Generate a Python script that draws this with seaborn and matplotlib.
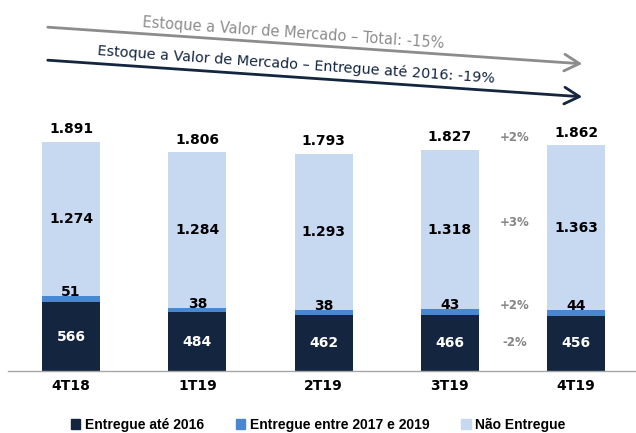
import matplotlib
matplotlib.use("Agg")
import matplotlib.pyplot as plt
import seaborn as sns
import pandas as pd
from matplotlib.patches import Patch

# data
categories = ["4T18", "1T19", "2T19", "3T19", "4T19"]
entregue_2016 = [566, 484, 462, 466, 456]
entregue_17_19 = [51, 38, 38, 43, 44]
nao_entregue = [1274, 1284, 1293, 1318, 1363]
totals = [1891, 1806, 1793, 1827, 1862]
var_labels = ["+2%", "+3%", "+2%", "-2%"]
legend_labels = ["Entregue até 2016", "Entregue entre 2017 e 2019", "Não Entregue"]

DARK = "#13253f"
MID = "#4a87d1"
LIGHT = "#c6d9f1"
GREY = "#8c8c8c"

sns.set_theme(style="white")
plt.rcParams["font.family"] = ["DejaVu Sans"]
plt.rcParams["text.color"] = "black"


def fmt(v):
    return f"{v:,}".replace(",", ".")


df = pd.DataFrame({
    "cat": categories,
    "dark": entregue_2016,
    "mid": entregue_17_19,
    "light": nao_entregue,
})
df["dark_mid"] = df["dark"] + df["mid"]
df["total"] = df["dark_mid"] + df["light"]

fig = plt.figure(figsize=(6.36, 4.33), dpi=100)
ymax = 2000
px_per_unit = 229 / 1891
ax = fig.add_axes([8 / 636, 62 / 433, 628 / 636, ymax * px_per_unit / 433])

# stacked look via overlaid cumulative bars
sns.barplot(data=df, x="cat", y="total", color=LIGHT, saturation=1, width=0.46, linewidth=0, ax=ax)
sns.barplot(data=df, x="cat", y="dark_mid", color=MID, saturation=1, width=0.46, linewidth=0, ax=ax)
sns.barplot(data=df, x="cat", y="dark", color=DARK, saturation=1, width=0.46, linewidth=0, ax=ax)

ax.set_xlim(-0.5, -0.5 + 628 / 126.25)
ax.set_ylim(0, ymax)
ax.set_xlabel("")
ax.set_ylabel("")
ax.set_yticks([])
for s in ["top", "right", "left"]:
    ax.spines[s].set_visible(False)
ax.spines["bottom"].set_color("#a6a6a6")
ax.spines["bottom"].set_linewidth(1)
ax.tick_params(axis="x", length=0, pad=6)
for lbl in ax.get_xticklabels():
    lbl.set_fontweight("bold")
    lbl.set_fontsize(10)
    lbl.set_color("black")

for i, row in df.iterrows():
    ax.annotate(fmt(totals[i]), (i, row["total"]), xytext=(0, 4), textcoords="offset points",
                ha="center", va="bottom", fontsize=10, fontweight="bold", color="black")
    ax.text(i, row["dark_mid"] + row["light"] / 2, fmt(row["light"]),
            ha="center", va="center", fontsize=10, fontweight="bold", color="black")
    ax.annotate(fmt(row["mid"]), (i, row["dark_mid"]), xytext=(0, 3), textcoords="offset points",
                ha="center", va="center", fontsize=10, fontweight="bold", color="black")
    ax.text(i, row["dark"] / 2, fmt(row["dark"]),
            ha="center", va="center", fontsize=10, fontweight="bold", color="white")

# variation labels between 3T19 and 4T19
r = df.iloc[3]
xv = 3.51
var_style = dict(fontsize=8.5, fontweight="semibold", color="#858585", ha="center")
ax.annotate(var_labels[0], (xv, r["total"]), xytext=(0, 4), textcoords="offset points",
            va="bottom", **var_style)
ax.text(xv, r["dark_mid"] + r["light"] / 2 + 60, var_labels[1], va="center", **var_style)
ax.annotate(var_labels[2], (xv, r["dark_mid"]), xytext=(0, 3), textcoords="offset points",
            va="center", **var_style)
ax.text(xv, r["dark"] / 2, var_labels[3], va="center", **var_style)

# trend arrows at the top
fig.add_artist(plt.Annotation("", xy=(585, 369), xytext=(45, 406), xycoords="figure pixels",
                              arrowprops=dict(arrowstyle="->,head_length=0.9,head_width=0.5",
                                              color=GREY, lw=2)))
fig.add_artist(plt.Annotation("", xy=(585, 336), xytext=(45, 373), xycoords="figure pixels",
                              arrowprops=dict(arrowstyle="->,head_length=0.9,head_width=0.5",
                                              color=DARK, lw=2)))
fig.text(293 / 636, 1 - 33 / 433, "Estoque a Valor de Mercado – Total: -15%", rotation=-4,
         ha="center", va="center", fontsize=10.5, color=GREY, rotation_mode="anchor")
fig.text(296 / 636, 1 - 65 / 433, "Estoque a Valor de Mercado – Entregue até 2016: -19%", rotation=-4,
         ha="center", va="center", fontsize=10.4, color=DARK, rotation_mode="anchor")

handles = [Patch(color=DARK), Patch(color=MID), Patch(color=LIGHT)]
leg = fig.legend(handles, legend_labels, loc="lower center", bbox_to_anchor=(0.5, -0.027), ncol=3,
                 frameon=False, handlelength=0.7, handleheight=0.7, handletextpad=0.3,
                 columnspacing=2.3, labelcolor="black",
                 prop={"family": "Liberation Sans", "weight": "bold", "size": 10})

fig.savefig("out.png", dpi=100)
